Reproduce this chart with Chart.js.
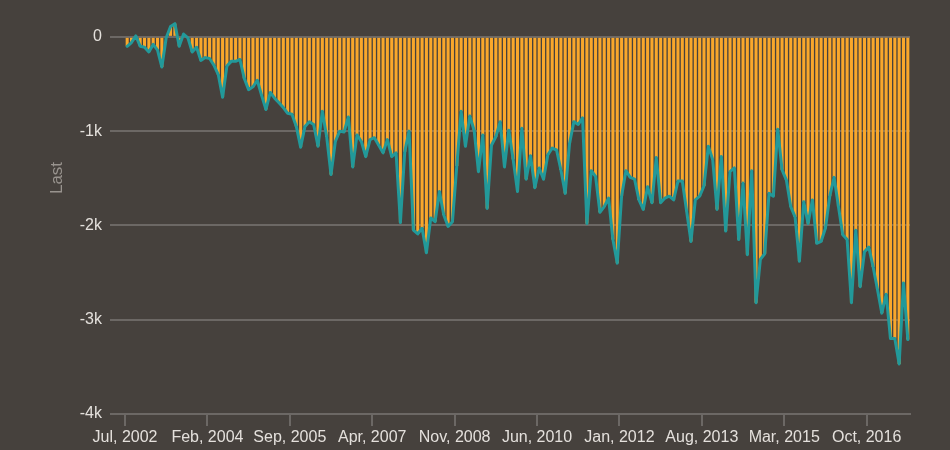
<!DOCTYPE html>
<html>
<head>
<meta charset="utf-8">
<script src="https://cdn.jsdelivr.net/npm/chart.js@4.4.0/dist/chart.umd.min.js"></script>
<style>
  html, body { margin: 0; padding: 0; background: #46413d; }
</style>
</head>
<body>
<canvas id="chart" width="950" height="450"></canvas>
<script>
// monthly values, Jul 2002 .. Jul 2017
const lastValues = [
  -100, -60, 10, -100, -110, -160, -80, -140, -320, -10,
  110, 140, -100, 30, -10, -160, -110, -250, -220, -230,
  -300, -400, -640, -310, -260, -260, -240, -440, -560, -530,
  -460, -620, -770, -590, -650, -700, -750, -810, -820, -950,
  -1170, -950, -900, -930, -1160, -790, -1060, -1460, -1110, -1000,
  -1010, -850, -1380, -1040, -1110, -1270, -1090, -1070, -1150, -1230,
  -1090, -1270, -1230, -1970, -1220, -1000, -2050, -2090, -2030, -2290,
  -1920, -1960, -1640, -1890, -2010, -1960, -1370, -790, -1160, -840,
  -990, -1430, -1040, -1820, -1150, -1060, -900, -1380, -990, -1300,
  -1640, -970, -1510, -1260, -1600, -1390, -1510, -1250, -1180, -1200,
  -1410, -1660, -1130, -900, -930, -860, -1980, -1420, -1480, -1860,
  -1800, -1710, -2150, -2400, -1690, -1420, -1490, -1510, -1730, -1830,
  -1590, -1760, -1280, -1760, -1710, -1690, -1730, -1530, -1530, -1850,
  -2170, -1730, -1690, -1580, -1160, -1300, -1830, -1270, -2060, -1430,
  -1390, -2150, -1550, -2310, -1420, -2820, -2360, -2300, -1660, -1690,
  -980, -1410, -1520, -1800, -1910, -2380, -1750, -1980, -1730, -2190,
  -2170, -2030, -1690, -1490, -1800, -2100, -2150, -2820, -2050, -2650,
  -2280, -2230, -2440, -2680, -2930, -2730, -3200, -3200, -3470, -2610,
  -3210
];

const xTickIndex = [0, 19, 38, 57, 76, 95, 114, 133, 152, 171];
const xTickLabels = ["Jul, 2002", "Feb, 2004", "Sep, 2005", "Apr, 2007", "Nov, 2008",
                     "Jun, 2010", "Jan, 2012", "Aug, 2013", "Mar, 2015", "Oct, 2016"];
const yTickValues = [0, -1000, -2000, -3000, -4000];
const yTitle = 'Last';

const gridColor = '#6c6865';
const fontFamily = '"Liberation Sans", Arial, sans-serif';

// each month sits in the middle of its slot on the time axis
const points = lastValues.map((v, i) => ({ x: i + 0.5, y: v }));

// axis title sits a bit above the middle of the plot in the original
const yTitlePlugin = {
  id: 'yTitle',
  afterDraw(chart) {
    const c = chart.ctx;
    c.save();
    c.translate(57, 178);
    c.rotate(-Math.PI / 2);
    c.font = '17px ' + fontFamily;
    c.fillStyle = '#98938e';
    c.textAlign = 'center';
    c.textBaseline = 'middle';
    c.fillText(yTitle, 0, 0);
    c.restore();
  }
};

new Chart(document.getElementById('chart'), {
  type: 'bar',
  data: {
    datasets: [
      {
        type: 'line',
        label: 'Last',
        data: points,
        borderColor: '#22999a',
        borderWidth: 3,
        borderJoinStyle: 'round',
        borderCapStyle: 'round',
        pointRadius: 0,
        tension: 0,
        order: 0
      },
      {
        type: 'bar',
        label: 'Last',
        data: points,
        backgroundColor: '#f9a72b',
        barPercentage: 0.7,
        categoryPercentage: 1,
        order: 1
      }
    ]
  },
  plugins: [yTitlePlugin],
  options: {
    responsive: false,
    animation: false,
    devicePixelRatio: 1,
    layout: { padding: { top: 18, right: 40, bottom: 0, left: 0 } },
    plugins: { legend: { display: false }, tooltip: { enabled: false } },
    scales: {
      x: {
        type: 'linear',
        min: 0,
        max: lastValues.length,
        offset: false,
        afterBuildTicks: (axis) => { axis.ticks = xTickIndex.map(v => ({ value: v })); },
        afterFit: (axis) => { axis.height = 36; },
        grid: { drawOnChartArea: false, offset: false, color: gridColor, lineWidth: 2, tickLength: 12 },
        border: { display: true, color: gridColor, width: 2 },
        ticks: {
          autoSkip: false,
          maxRotation: 0,
          padding: 2,
          color: '#e4e0dc',
          font: { family: fontFamily, size: 16 },
          callback: (v) => xTickLabels[xTickIndex.indexOf(v)]
        }
      },
      y: {
        min: -4000,
        max: 200,
        afterBuildTicks: (axis) => { axis.ticks = yTickValues.map(v => ({ value: v })); },
        afterFit: (axis) => { axis.width = 125; },
        grid: { color: gridColor, lineWidth: 2, tickLength: 15 },
        border: { display: false },
        ticks: {
          padding: 8,
          color: '#e4e0dc',
          font: { family: fontFamily, size: 16 },
          callback: (v) => v === 0 ? '0' : (v / 1000) + 'k'
        }
      }
    }
  }
});
</script>
</body>
</html>
